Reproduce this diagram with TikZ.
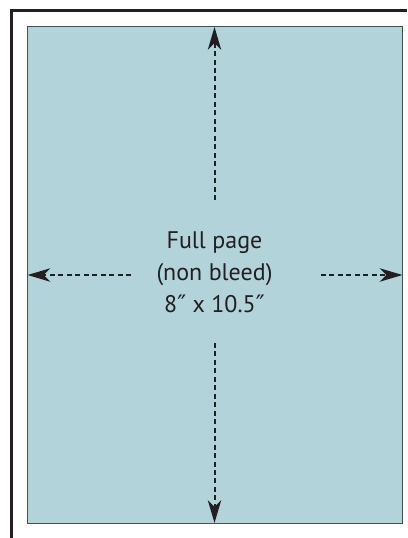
\documentclass[tikz,border=0pt]{standalone}
\usepackage{fontspec}
\setmainfont{PT Sans}
\newfontfamily\primefont{DejaVu Sans}
\newcommand{\inchmark}{{\primefont ″}}
\usepackage{tikz}
\usetikzlibrary{arrows.meta}
\definecolor{pageblue}{HTML}{B3D3DA}
\definecolor{inkgray}{HTML}{231F20}
\tikzstyle{frame} = [line width=2.25pt, draw=inkgray]
\tikzstyle{sheet} = [draw=black!70, line width=0.75pt, fill=pageblue]
\tikzstyle{pagetext} = [align=center, text=inkgray, font=\fontsize{18}{24}\selectfont]
\tikzstyle{arrow} = [line width=1.5pt, draw=inkgray, dash pattern=on 3.75pt off 2.6pt, -{Stealth[length=17pt, width=10pt, inset=5pt]}]

\begin{document}
\begin{tikzpicture}[x=0.75pt, y=-0.75pt]
        \useasboundingbox (0,0) rectangle (407,538);

        \draw [frame] (11,538) -- (11,11) -- (407,11);
        \draw [sheet] (27.5,27) rectangle (402.5,523);

        \node (pagelabel) [pagetext] at (214.5,272) {Full page\\(non bleed)\\8\inchmark{} x 10.5\inchmark};

        \coordinate (topend) at (214.5,200);
        \coordinate (toptip) at (214.5,27);
        \coordinate (bottomend) at (214.5,343);
        \coordinate (bottomtip) at (214.5,523);
        \coordinate (leftend) at (131,275);
        \coordinate (lefttip) at (27.5,275);
        \coordinate (rightend) at (321,275);
        \coordinate (righttip) at (402.5,275);

        \draw [arrow] (topend) -- (toptip);
        \draw [arrow] (bottomend) -- (bottomtip);
        \draw [arrow] (leftend) -- (lefttip);
        \draw [arrow] (rightend) -- (righttip);

\end{tikzpicture}
\end{document}
